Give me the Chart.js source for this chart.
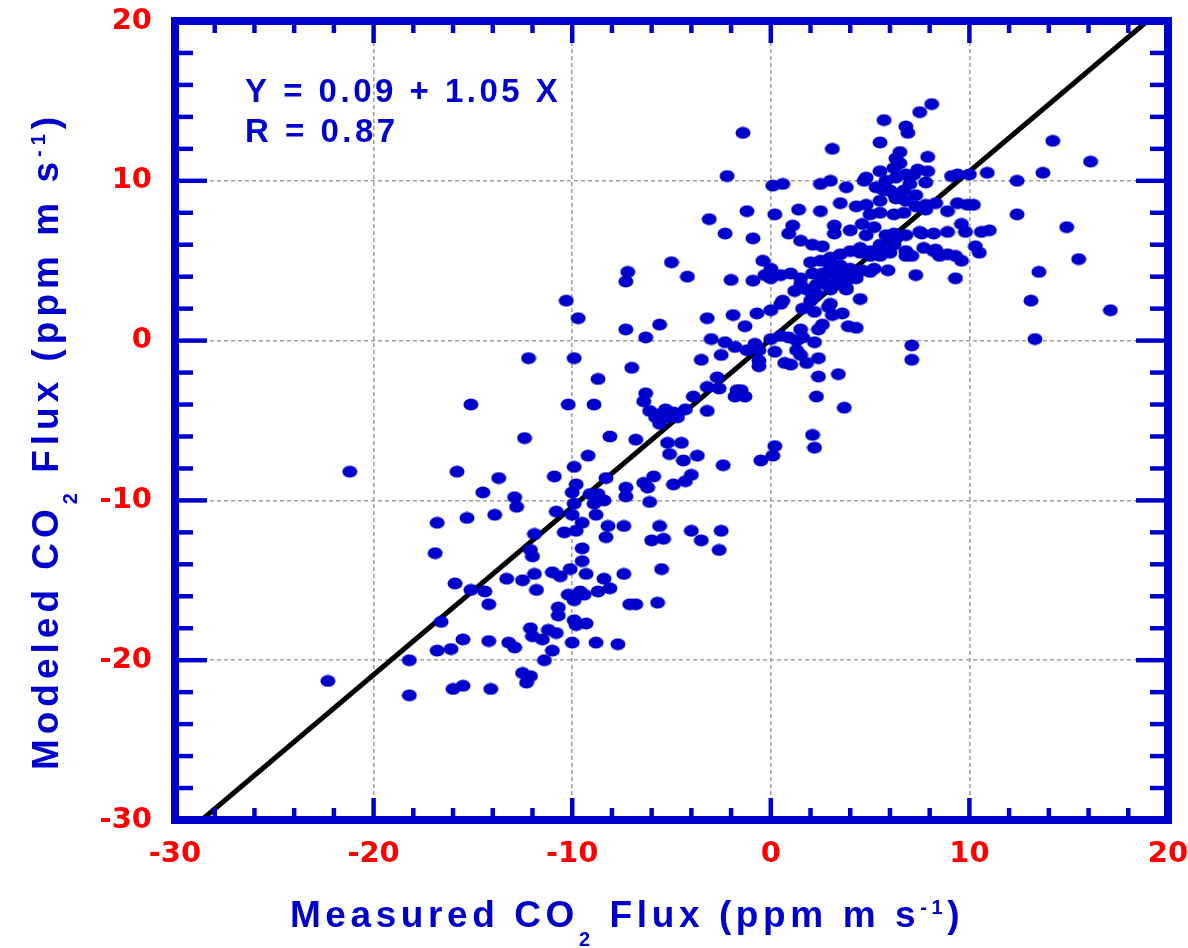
<!DOCTYPE html>
<html>
<head>
<meta charset="utf-8">
<title>Measured vs Modeled CO2 Flux</title>
<script src="https://cdn.jsdelivr.net/npm/chart.js@4.4.1/dist/chart.umd.min.js"></script>
<style>
    html, body { margin: 0; padding: 0; background: #ffffff; }
    #wrap { width: 1188px; height: 948px; }
</style>
</head>
<body>
<div id="wrap"><canvas id="fluxChart" width="1188" height="948"></canvas></div>
<script>
// Measured CO2 flux (x) and modeled CO2 flux (y), ppm m s-1
const measured = [
    -21.2, -15.8, -13.7, -14.5, -12.9, -12.8, -10.9, -16.8, -15.3, -13.9, -10.8, -16.9,
    -11.9, -12.1, -12.0, -15.9, -15.1, -14.4, -14.2, -13.3, -12.5, -11.9, -11.8, -11.0,
    -10.7, -10.7, -16.6, -15.5, -16.1, -16.8, -18.2, -14.2, -13.2, -12.9, -12.1, -12.0,
    -11.5, -11.2, -10.8, -11.0, -11.4, -12.5, -12.1, -12.3, -22.3, -18.2, -16.0, -15.5,
    -14.1, -9.2, -9.9, -8.3, -9.8, -10.0, -9.1, -8.7, -8.4, -8.9, -9.9, -10.0,
    -8.8, -9.5, -10.4, -9.8, -8.2, -7.4, -8.3, -7.3, -7.3, -6.4, -6.2, -5.9,
    -6.1, -5.6, -6.0, -5.4, -5.1, -4.4, -3.7, -4.9, -4.3, -4.0, -2.4, -0.5,
    0.1, 0.2, -5.2, -4.5, -4.0, -3.5, -2.5, -2.6, -9.5, -9.5, -10.1, -10.6,
    -9.3, -7.4, -5.5, -8.4, -8.1, -8.7, -10.2, -9.6, -9.4, -9.9, -7.1, -6.8,
    -5.7, -9.9, -9.3, -9.8, -10.0, -8.8, -7.7, -7.2, -7.3, -4.2, -2.0, -10.3,
    -9.7, -7.3, -5.6, -6.3, -3.2, -1.9, -3.0, -2.3, -1.8, -2.5, -3.5, -12.2,
    -9.9, -7.0, -8.7, -2.7, -3.2, -2.6, -1.7, -1.8, -3.9, -6.3, -6.4, -15.1,
    -10.2, -8.9, -6.1, -5.6, -5.3, -4.9, -4.3, -5.6, -5.1, -5.8, -4.7, -3.2,
    -12.4, -8.1, -6.8, -0.9, -0.3, 0.0, 0.5, 1.0, 1.5, 1.2, 1.5, 2.1,
    2.6, 3.1, 3.6, 4.1, 2.3, 2.8, 3.3, 3.8, 2.1, 4.5, 5.0, 5.9,
    7.3, 9.3, 2.0, 0.5, 0.0, 1.6, 2.2, 2.9, 3.1, 3.6, 2.6, 2.4,
    3.9, 4.3, -0.7, -1.3, -1.2, -0.8, -0.6, 0.0, 0.5, 0.2, 0.9, 1.5,
    1.3, 1.6, 2.2, 1.3, 1.5, -0.6, -0.6, 0.7, 1.0, 1.8, 2.4, 2.4,
    3.4, -1.5, -1.3, 2.3, 3.7, 2.1, 2.2, 7.1, 7.1, 3.1, 5.5, 5.7,
    6.8, 6.9, 7.5, 8.1, -1.4, 6.5, 6.3, 6.5, 6.2, 7.9, 5.5, 7.4,
    7.9, 9.1, 9.4, 10.0, 10.9, 12.4, 13.7, 14.2, 16.1, -2.2, 0.1, 0.6,
    2.5, 3.0, 3.8, 4.7, 4.8, 5.3, 5.8, 6.0, 6.7, 6.8, 6.3, 7.0,
    7.8, 7.2, 3.5, 4.3, 4.8, 5.5, 6.3, 6.8, 5.7, 6.2, 7.3, 7.8,
    8.3, 9.4, 9.9, 10.2, 7.8, 8.9, 1.4, 2.5, 5.0, 5.5, 6.2, 6.7,
    7.3, -3.1, -1.2, 0.2, -2.3, -0.9, 1.1, 3.2, 4.6, 5.2, 4.0, 0.9,
    1.5, 3.2, 4.8, 5.8, 6.3, 5.5, 2.1, 2.6, 6.8, 2.0, 2.5, 3.0,
    3.5, 4.0, 4.5, 5.0, 5.5, 6.0, 3.0, 3.5, 4.0, 4.6, 5.2, 2.6,
    3.3, 3.8, 4.3, 1.8, 2.3, 3.0, 3.8, 0.6, 3.0, -0.4, 0.0, -5.0,
    7.1, 12.4, 9.6, 9.8, 10.6, 11.0, 8.9, 8.2, 7.6, 14.9, 10.3, 10.5,
    9.3, 9.6, 8.3, 8.5, 7.7, 15.5, 13.5, 13.1, 17.1, 13.3, 6.2, 6.8,
    7.5, 4.5, 5.0, 5.5, 6.2, 6.8, 8.2, 8.9
];
const modeled = [
    -8.2, -8.2, -8.6, -9.5, -9.8, -10.4, -8.5, -11.4, -11.1, -10.9, -10.7, -13.3,
    -12.1, -13.1, -13.5, -15.2, -15.6, -15.7, -16.5, -14.9, -15.0, -14.6, -15.6, -14.5,
    -16.7, -17.2, -17.6, -18.7, -19.3, -19.4, -20.0, -18.8, -18.9, -19.2, -18.0, -18.5,
    -18.7, -18.1, -18.3, -19.4, -20.0, -20.8, -21.0, -21.4, -21.3, -22.2, -21.8, -21.6,
    -21.8, -7.2, -7.9, -8.6, -9.0, -9.5, -9.6, -9.6, -10.0, -10.2, -10.2, -10.9,
    -10.9, -11.4, -12.0, -11.9, -11.6, -11.6, -12.3, -9.2, -9.75, -8.9, -9.2, -8.5,
    -10.1, -11.6, -12.5, -12.4, -7.1, -7.5, -7.2, -9.0, -8.8, -8.4, -7.8, -7.5,
    -7.2, -6.6, -6.4, -6.4, -11.9, -12.5, -11.9, -13.1, -13.0, -13.8, -14.3, -14.75,
    -14.6, -14.6, -14.3, -14.9, -15.5, -15.7, -15.9, -15.7, -15.9, -16.25, -16.5, -16.5,
    -16.4, -17.5, -17.7, -17.8, -18.9, -18.9, -19.0, 4.3, 3.7, 4.0, 3.8, 2.5,
    1.4, 0.7, 1.0, 0.2, 1.4, 1.6, 0.1, -0.1, -0.4, -0.9, -1.2, -1.1,
    -1.1, -1.7, -2.4, -2.3, -2.9, -3.0, -3.1, -3.5, -3.5, -3.3, -3.8, -4.0,
    -4.0, -4.0, -4.4, -4.6, -4.3, -4.5, -4.3, -5.2, -4.8, -4.8, -4.8, -4.4,
    -6.1, -6.0, -6.2, 3.75, 4.1, 3.9, 4.1, 4.2, 3.9, 3.1, 3.5, 4.2,
    4.2, 4.2, 4.2, 4.0, 3.5, 3.5, 3.5, 3.3, 2.9, 2.6, 4.3, 4.4,
    4.1, 3.9, 2.5, 2.3, 1.9, 2.0, 1.8, 2.1, 1.6, 1.7, 1.0, 0.7,
    0.9, 0.8, 1.7, 0.9, -0.6, -0.2, -0.6, 0.1, 0.3, -0.7, 0.2, 0.7,
    0.0, 0.2, -0.1, -0.6, -0.9, -1.25, -1.6, -1.4, -1.5, -1.4, -1.1, -2.25,
    -2.1, -3.1, -3.5, -3.5, -4.2, -5.9, -6.7, -0.3, -1.2, 12.0, 12.4, 13.8,
    13.4, 13.0, 14.3, 14.8, 13.0, 11.8, 11.4, 11.1, 10.8, 11.5, 10.6, 10.7,
    10.6, 10.3, 10.4, 10.4, 10.5, 10.0, 10.5, 12.5, 11.2, 10.3, 9.7, 9.8,
    9.8, 10.0, 9.6, 10.0, 10.2, 9.6, 10.0, 9.4, 9.4, 10.4, 10.2, 9.8,
    9.9, 10.4, 8.6, 8.4, 8.5, 8.75, 8.9, 8.75, 9.4, 9.2, 9.1, 8.5,
    8.6, 8.6, 8.5, 8.5, 8.2, 8.1, 8.2, 8.1, 7.9, 8.0, 7.9, 8.0,
    8.4, 7.6, 8.1, 7.9, 6.7, 6.4, 7.2, 7.2, 7.3, 7.1, 6.9, 6.7,
    6.25, 6.7, 6.6, 6.6, 6.4, 6.0, 6.0, 5.9, 5.3, 4.9, 5.0, 5.2,
    5.4, 5.6, 5.5, 5.3, 5.3, 5.5, 4.6, 4.7, 4.5, 4.4, 4.5, 3.75,
    4.0, 3.75, 3.9, 3.2, 2.9, 3.2, 3.2, 2.5, 2.3, 5.0, 4.5, 4.9,
    5.3, 7.9, 7.3, 6.8, 6.8, 6.9, 6.8, 6.7, 6.7, 7.1, 5.9, 5.5,
    5.3, 5.0, 5.7, 5.3, 5.8, 5.1, 4.3, 2.5, 1.9, 0.1, 6.7, 6.6,
    6.8, 5.8, 5.6, 5.8, 6.0, 5.6, 5.6, 5.4
];

const xTicks = [-30, -20, -10, 0, 10, 20];
const yTicks = [-30, -20, -10, 0, 10, 20];
const minorStep = 2;

// Regression reported on the plot
const fitIntercept = 0.09;
const fitSlope = 1.05;
const fitR = 0.87;

const BLUE = '#0000cc';
const RED = '#ff0000';
const TITLE_FONT = '"Liberation Sans", Arial, sans-serif';

function ellipseMarker(w, h, color) {
    const c = document.createElement('canvas');
    c.width = w;
    c.height = h;
    const g = c.getContext('2d');
    g.fillStyle = color;
    g.beginPath();
    g.ellipse(w / 2, h / 2, w / 2 - 0.5, h / 2 - 0.5, 0, 0, Math.PI * 2);
    g.fill();
    return c;
}

// Draws a run of text pieces: [text, fontSize, baselineShift]
function drawRich(ctx, parts, x, y, spacing, align) {
    ctx.letterSpacing = spacing + 'px';
    let total = 0;
    parts.forEach(p => {
        ctx.font = `bold ${p[1]}px ${TITLE_FONT}`;
        total += ctx.measureText(p[0]).width;
    });
    let cx = align === 'center' ? x - total / 2 : x;
    ctx.textAlign = 'left';
    ctx.textBaseline = 'alphabetic';
    parts.forEach(p => {
        ctx.font = `bold ${p[1]}px ${TITLE_FONT}`;
        ctx.fillText(p[0], cx, y + p[2]);
        cx += ctx.measureText(p[0]).width;
    });
    ctx.letterSpacing = '0px';
}

// Frame with inward major/minor ticks on all four sides
const framePlugin = {
    id: 'frame',
    afterDraw(chart) {
        const {ctx, chartArea: a, scales} = chart;
        ctx.save();
        ctx.strokeStyle = BLUE;
        ctx.lineCap = 'butt';

        const tick = (x1, y1, x2, y2) => {
            ctx.beginPath();
            ctx.moveTo(x1, y1);
            ctx.lineTo(x2, y2);
            ctx.stroke();
        };
        ctx.lineWidth = 4.5;
        for (let v = xTicks[0] + minorStep; v < xTicks[xTicks.length - 1]; v += minorStep) {
            const major = xTicks.includes(v);
            const len = major ? 22 : 12;
            const px = scales.x.getPixelForValue(v);
            tick(px, a.bottom, px, a.bottom - len);
            tick(px, a.top, px, a.top + len);
        }
        for (let v = yTicks[0] + minorStep; v < yTicks[yTicks.length - 1]; v += minorStep) {
            const major = yTicks.includes(v);
            const len = major ? 32 : 18;
            const py = scales.y.getPixelForValue(v);
            tick(a.left, py, a.left + len, py);
            tick(a.right, py, a.right - len, py);
        }

        ctx.lineWidth = 8;
        ctx.strokeRect(a.left, a.top, a.right - a.left, a.bottom - a.top);
        ctx.restore();
    }
};

// Axis titles (with sub/superscripts) and the fit equation
const labelsPlugin = {
    id: 'labels',
    afterDraw(chart) {
        const {ctx} = chart;
        ctx.save();
        ctx.fillStyle = BLUE;

        drawRich(ctx, [
            ['Measured CO', 37, 0], ['2', 20, 19], [' Flux (ppm m s', 37, 0], ['-1', 20, -13], [')', 37, 0]
        ], 627, 927, 4.6, 'center');

        ctx.save();
        ctx.translate(58, 441);
        ctx.rotate(-Math.PI / 2);
        drawRich(ctx, [
            ['Modeled CO', 37, 0], ['2', 20, 19], [' Flux (ppm m s', 37, 0], ['-1', 20, -13], [')', 37, 0]
        ], 0, 0, 5, 'center');
        ctx.restore();

        drawRich(ctx, [[`Y = ${fitIntercept.toFixed(2)} + ${fitSlope.toFixed(2)} X`, 33, 0]], 245, 102, 3.5, 'left');
        drawRich(ctx, [[`R = ${fitR.toFixed(2)}`, 33, 0]], 245, 142, 3.5, 'left');
        ctx.restore();
    }
};

function buildChart() {
    const points = measured.map((x, i) => ({x: x, y: modeled[i]}));
    const yLo = yTicks[0];
    const yHi = yTicks[yTicks.length - 1];
    const fitLine = [
        {x: (yLo - fitIntercept) / fitSlope, y: yLo},
        {x: (yHi - fitIntercept) / fitSlope, y: yHi}
    ];

    const tickFont = {family: '"DejaVu Sans", sans-serif', weight: 'bold', size: 29};
    const gridOpts = {color: '#a0a0a0', lineWidth: 1.6, drawTicks: false};

    return new Chart(document.getElementById('fluxChart').getContext('2d'), {
        type: 'scatter',
        data: {
            datasets: [{
                label: 'Modeled vs measured',
                data: points,
                pointStyle: ellipseMarker(16, 13, BLUE),
                pointRadius: 7,
                pointHoverRadius: 7
            }, {
                label: 'Fit',
                data: fitLine,
                showLine: true,
                borderColor: '#000000',
                borderWidth: 5,
                pointRadius: 0,
                pointHoverRadius: 0
            }]
        },
        options: {
            responsive: false,
            animation: false,
            events: [],
            layout: {padding: {left: 0, top: 21, right: 20, bottom: 0}},
            plugins: {
                legend: {display: false},
                tooltip: {enabled: false}
            },
            scales: {
                x: {
                    type: 'linear',
                    min: xTicks[0],
                    max: xTicks[xTicks.length - 1],
                    afterBuildTicks: (s) => { s.ticks = xTicks.map(v => ({value: v})); },
                    afterFit: (s) => {
                        s.height = 128;
                        s.paddingLeft = 0;
                        s.paddingRight = 0;
                    },
                    grid: gridOpts,
                    border: {display: false, dash: [4, 3]},
                    ticks: {color: RED, font: tickFont, padding: 17, maxRotation: 0, autoSkip: false}
                },
                y: {
                    type: 'linear',
                    min: yTicks[0],
                    max: yTicks[yTicks.length - 1],
                    afterBuildTicks: (s) => { s.ticks = yTicks.map(v => ({value: v})); },
                    afterFit: (s) => {
                        s.width = 175;
                        s.paddingTop = 0;
                        s.paddingBottom = 0;
                    },
                    grid: gridOpts,
                    border: {display: false, dash: [4, 3]},
                    ticks: {color: RED, font: tickFont, padding: 23, autoSkip: false}
                }
            }
        },
        plugins: [framePlugin, labelsPlugin]
    });
}

buildChart();
</script>
</body>
</html>
